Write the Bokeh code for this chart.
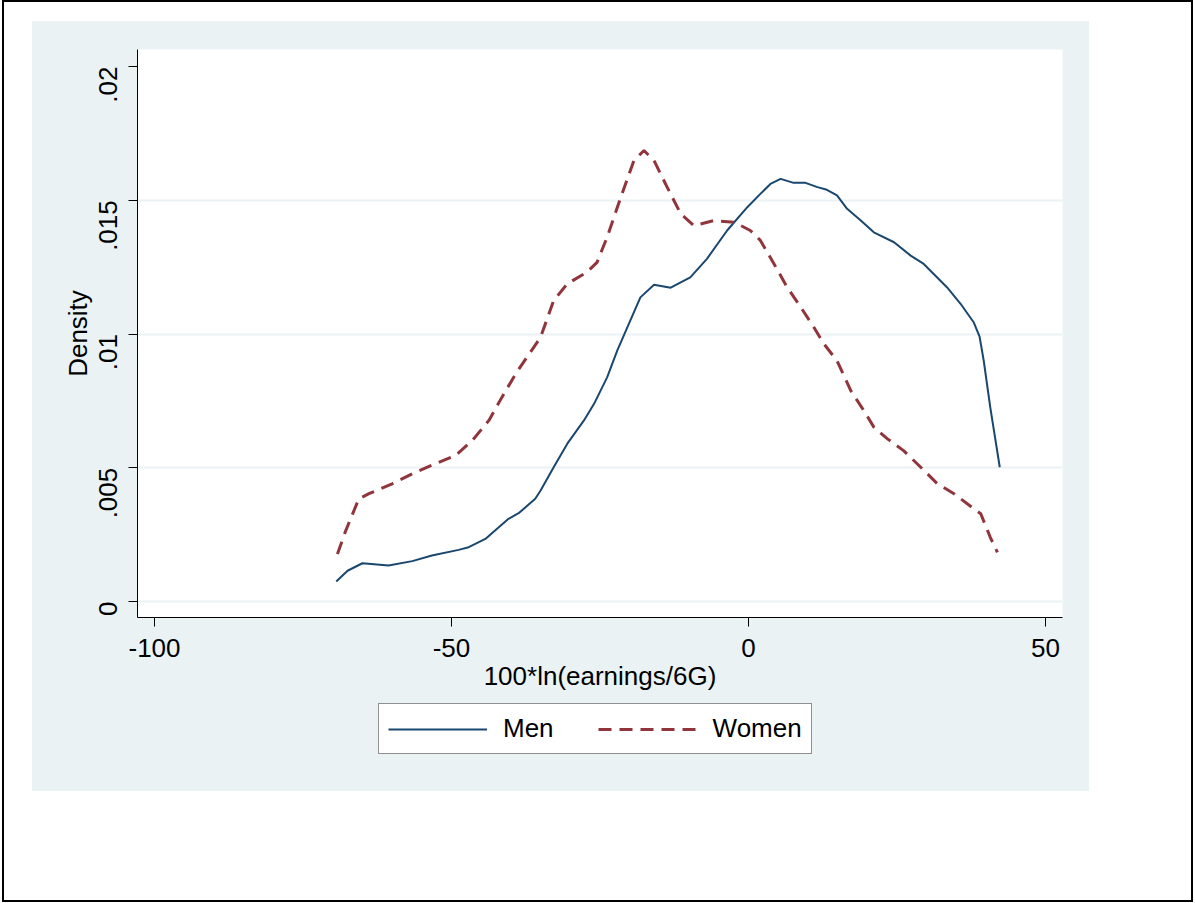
import math
from bokeh.plotting import figure
from bokeh.models import (FixedTicker, CustomJSTickFormatter, Legend, Range1d)
from bokeh.layouts import column
from bokeh.embed import file_html
from bokeh.resources import INLINE

# ---- data ----
men_x = [-69.4, -67.5, -65.0, -60.6, -56.6, -53.3, -48.8, -47.1, -44.3, -40.4,
         -38.7, -35.9, -35.0, -32.8, -30.5, -27.7, -26.0, -23.8, -22.1, -20.4,
         -18.2, -15.9, -13.1, -9.8, -7.0, -3.6, -0.2, 2.0, 3.7, 5.4,
         7.6, 9.6, 11.6, 13.2, 14.9, 16.6, 18.9, 21.1, 24.5, 27.3,
         29.5, 33.4, 35.7, 37.9, 38.9, 39.6, 40.7, 42.3]
men_y = [0.00075, 0.00115, 0.00143, 0.00135, 0.00151, 0.00172, 0.00193, 0.00203, 0.00234, 0.00309,
         0.00330, 0.00384, 0.00415, 0.00502, 0.00590, 0.00677, 0.00739, 0.00838, 0.00938, 0.01025,
         0.01137, 0.01184, 0.01173, 0.01212, 0.01281, 0.01387, 0.01474, 0.01524, 0.01561, 0.01580,
         0.01565, 0.01565, 0.01549, 0.01539, 0.01518, 0.01468, 0.01424, 0.01380, 0.01343, 0.01293,
         0.01262, 0.01175, 0.01113, 0.01044, 0.00990, 0.00900, 0.00726, 0.00502]

women_x = [-69.2, -67.8, -65.6, -63.9, -60.0, -56.1, -52.7, -49.3, -46.5, -43.7,
           -41.5, -39.2, -35.0, -32.8, -30.5, -27.2, -25.5, -23.8, -21.5, -19.3,
           -17.6, -15.9, -13.7, -11.4, -9.2, -5.8, -2.4, 0.3, 2.0, 4.3,
           6.5, 8.8, 11.0, 12.7, 14.9, 17.2, 19.4, 21.1, 23.4, 26.1,
           29.0, 31.8, 34.6, 37.9, 39.1, 40.7, 41.9]
women_y = [0.00178, 0.00265, 0.00384, 0.00403, 0.00440, 0.00483, 0.00515, 0.00546, 0.00602, 0.00677,
           0.00764, 0.00851, 0.00988, 0.01125, 0.01188, 0.01231, 0.01268, 0.01362, 0.01511, 0.01648,
           0.01686, 0.01648, 0.01549, 0.01449, 0.01405, 0.01424, 0.01418, 0.01387, 0.01350, 0.01262,
           0.01175, 0.01100, 0.01025, 0.00963, 0.00900, 0.00789, 0.00714, 0.00652, 0.00608, 0.00564,
           0.00502, 0.00440, 0.00403, 0.00347, 0.00328, 0.00240, 0.00184]

x_ticks = [-100, -50, 0, 50]
y_ticks = [0, 0.005, 0.01, 0.015, 0.02]
grid_ticks = [0, 0.005, 0.01, 0.015]
series_names = ["Men", "Women"]
x_title = "100*ln(earnings/6G)"
y_title = "Density"

FONT = "Liberation Sans"
BG = "#eaf2f3"
NAVY = "#1a476f"
MAROON = "#90353b"
MEN_STYLE = dict(line_color=NAVY, line_width=2)
WOMEN_STYLE = dict(line_color=MAROON, line_width=3, line_dash="13 8")

# ---- main plot ----
p = figure(width=1057, height=674, output_backend="svg", toolbar_location=None,
           x_range=Range1d(-102.86, 52.86), y_range=Range1d(-0.000598, 0.020636),
           min_border_left=105, min_border_right=27, min_border_top=28, min_border_bottom=78)
p.border_fill_color = BG
p.background_fill_color = "white"
p.outline_line_color = None

p.line(men_x, men_y, **MEN_STYLE)
p.line(women_x, women_y, **WOMEN_STYLE)

for ax in (p.xaxis[0], p.yaxis[0]):
    ax.axis_line_color = "black"
    ax.axis_line_width = 1
    ax.major_tick_line_color = "black"
    ax.major_tick_out = 9
    ax.major_tick_in = 0
    ax.minor_tick_line_color = None
    ax.major_label_text_font = FONT
    ax.major_label_text_font_size = "26px"
    ax.major_label_text_color = "black"
    ax.axis_label_text_font = FONT
    ax.axis_label_text_font_size = "26px"
    ax.axis_label_text_font_style = "normal"
    ax.axis_label_text_color = "black"

p.xaxis.ticker = FixedTicker(ticks=x_ticks)
p.yaxis.ticker = FixedTicker(ticks=y_ticks)
p.xaxis.axis_label = x_title
p.yaxis.axis_label = y_title
p.xaxis.major_label_standoff = 12
p.xaxis.axis_label_standoff = 1
p.yaxis.major_label_standoff = 20
p.yaxis.axis_label_standoff = -5
p.yaxis.major_label_orientation = math.pi / 2
p.xaxis.formatter = CustomJSTickFormatter(code="return String(Math.round(tick));")
p.yaxis.formatter = CustomJSTickFormatter(code="""
    if (Math.abs(tick) < 1e-12) return "0";
    let s = tick.toFixed(3).replace(/0+$/, '');
    return s.replace(/^0/, '');
""")

p.xgrid.grid_line_color = None
p.ygrid.ticker = FixedTicker(ticks=grid_ticks)
p.ygrid.grid_line_color = BG
p.ygrid.grid_line_width = 2

# ---- legend strip (same background, below the axis) ----
# the key lines use the series data but live outside this strip's view
pl = figure(width=1057, height=96, output_backend="svg", toolbar_location=None,
            x_axis_type=None, y_axis_type=None,
            x_range=Range1d(1000, 1001), y_range=Range1d(1000, 1001),
            min_border_left=105, min_border_right=27, min_border_top=0, min_border_bottom=0)
pl.border_fill_color = BG
pl.background_fill_color = BG
pl.outline_line_color = None
pl.xgrid.grid_line_color = None
pl.ygrid.grid_line_color = None
k1 = pl.line(men_x, men_y, **MEN_STYLE)
k2 = pl.line(women_x, women_y, **WOMEN_STYLE)

legend = Legend(items=[(series_names[0], [k1]), (series_names[1], [k2])],
                orientation="horizontal", location=(241, 37))
legend.label_text_font = FONT
legend.label_text_font_size = "26px"
legend.label_text_color = "black"
legend.glyph_width = 99
legend.glyph_height = 26
legend.label_standoff = 16
legend.spacing = 44
legend.padding = 9
legend.margin = 0
legend.border_line_color = "#222222"
legend.border_line_width = 1
legend.background_fill_color = "white"
legend.background_fill_alpha = 1
pl.add_layout(legend, "center")

inner = column(p, pl, spacing=0, styles={"background-color": BG})
inner.margin = (19, 102, 109, 28)
layout = column(inner, spacing=0,
                styles={"border": "2px solid black", "background-color": "white",
                        "margin-left": "2px"})

open("out.html", "w").write(file_html(layout, INLINE))
